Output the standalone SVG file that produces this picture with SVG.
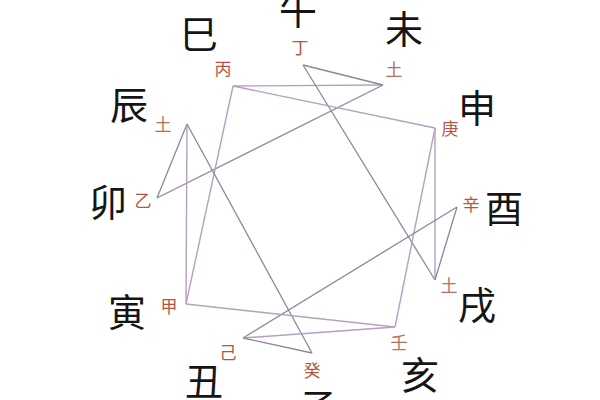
<svg xmlns="http://www.w3.org/2000/svg" width="600" height="400" viewBox="0 0 600 400">
<style>
.big{font-family:"Noto Sans CJK SC","Noto Sans CJK JP",sans-serif;font-size:38px;fill:#151515;text-anchor:middle;dominant-baseline:central}
.sm{font-family:"Noto Sans CJK SC","Noto Sans CJK JP",sans-serif;font-size:17px;fill:#b5543f;text-anchor:middle;dominant-baseline:central}
.earth{fill:#b86f5e}
.p{stroke:#b7a0c0;stroke-width:1.4;fill:none}
.g{stroke:#8e8894;stroke-width:1.3;fill:none}
</style>
<rect width="600" height="400" fill="#ffffff"/>
<g id="connectors">
<line class="p" x1="233" y1="86" x2="383" y2="85"/>
<line class="g" x1="303" y1="65" x2="383" y2="85"/>
<line class="g" x1="303" y1="65" x2="435" y2="280"/>
<line class="g" x1="383" y1="85" x2="157" y2="198"/>
<line class="p" x1="233" y1="86" x2="435" y2="128"/>
<line class="p" x1="233" y1="86" x2="186" y2="304"/>
<line class="g" x1="187" y1="124" x2="157" y2="198"/>
<line class="p" x1="187" y1="124" x2="186" y2="304"/>
<line class="g" x1="187" y1="124" x2="312" y2="353"/>
<line class="p" x1="435" y1="128" x2="395" y2="327"/>
<line class="p" x1="435" y1="128" x2="435" y2="280"/>
<line class="g" x1="457" y1="207" x2="435" y2="280"/>
<line class="g" x1="457" y1="207" x2="243" y2="338"/>
<line class="p" x1="186" y1="304" x2="395" y2="327"/>
<line class="p" x1="243" y1="338" x2="395" y2="327"/>
<line class="g" x1="243" y1="338" x2="312" y2="353"/>
</g>
<g id="branches">
<g id="wu"><text class="big" x="298" y="7">午</text></g>
<g id="wei"><text class="big" x="404" y="26">未</text></g>
<g id="shen"><text class="big" x="477" y="105">申</text></g>
<g id="you"><text class="big" x="504" y="205">酉</text></g>
<g id="xu"><text class="big" x="477" y="302">戌</text></g>
<g id="hai"><text class="big" x="420" y="372">亥</text></g>
<g id="zi"><text class="big" x="318" y="404">子</text></g>
<g id="chou"><text class="big" x="204" y="378">丑</text></g>
<g id="yin"><text class="big" x="127" y="309">寅</text></g>
<g id="mao"><text class="big" x="108" y="199">卯</text></g>
<g id="chen"><text class="big" x="129" y="102">辰</text></g>
<g id="si"><text class="big" x="199" y="31">巳</text></g>
</g>
<g id="stems">
<g id="ding"><text class="sm" x="300" y="46">丁</text></g>
<g id="bing"><text class="sm" x="223" y="67">丙</text></g>
<g id="tu-wei"><text class="sm earth" x="394" y="68">土</text></g>
<g id="tu-chen"><text class="sm earth" x="163" y="123">土</text></g>
<g id="yi"><text class="sm" x="143" y="199">乙</text></g>
<g id="jia"><text class="sm" x="169" y="305">甲</text></g>
<g id="ji"><text class="sm" x="228" y="351">己</text></g>
<g id="gui"><text class="sm" x="312" y="369">癸</text></g>
<g id="ren"><text class="sm earth" x="399" y="341">壬</text></g>
<g id="tu-xu"><text class="sm earth" x="449" y="284">土</text></g>
<g id="xin"><text class="sm" x="471" y="203">辛</text></g>
<g id="geng"><text class="sm" x="450" y="127">庚</text></g>
</g>
</svg>
